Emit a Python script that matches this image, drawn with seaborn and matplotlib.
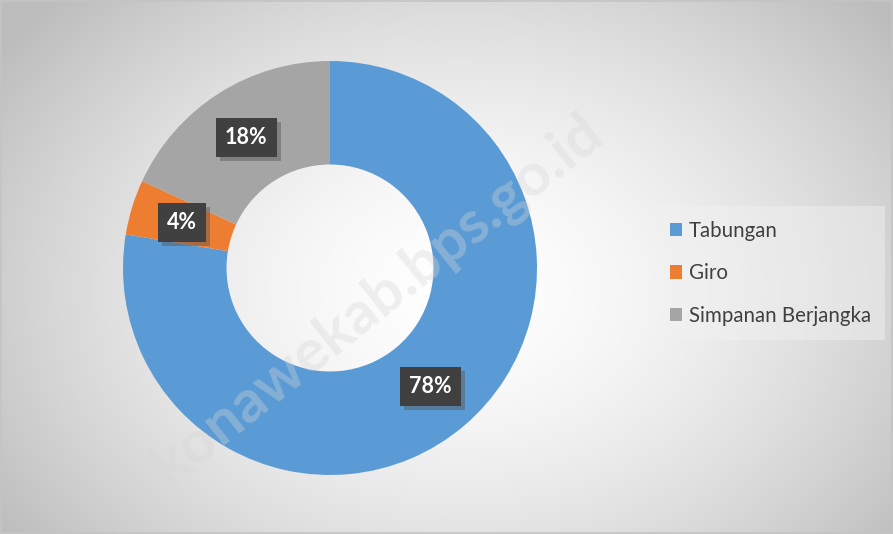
import numpy as np
import matplotlib.pyplot as plt
import matplotlib.patheffects as pe
import seaborn as sns

categories = ["Tabungan", "Giro", "Simpanan Berjangka"]
shares = [77.6, 4.3, 18.1]
colors = ["#5B9BD5", "#ED7D31", "#A5A5A5"]

sns.set_style("white")
plt.rcParams["font.family"] = ["Lato", "DejaVu Sans"]

W, H = 893, 534
fig = plt.figure(figsize=(W / 100, H / 100), dpi=100)

# radial gradient background
bg = fig.add_axes([0, 0, 1, 1], zorder=-5)
yy, xx = np.mgrid[0:H, 0:W]
r = np.sqrt(((xx - 460) / 560.0) ** 2 + ((yy - 290) / 420.0) ** 2)
shade = 1.0 - 0.26 * np.clip(r, 0, 1) ** 1.6
bg.imshow(np.dstack([shade] * 3), extent=[0, W, H, 0], aspect="auto")
bg.set_xlim(0, W)
bg.set_ylim(H, 0)
bg.axis("off")
bg.add_patch(plt.Rectangle((0.5, 0.5), W - 1.5, H - 1.5, fill=False, ec="#c4c4c4", lw=1.2))

# donut
cx, cy, R = 330, 268, 207
ax = fig.add_axes([(cx - R) / W, (H - cy - R) / H, 2 * R / W, 2 * R / H])
wedges, texts = ax.pie(shares, colors=colors, startangle=90, counterclock=False,
                       radius=1.0, wedgeprops=dict(width=0.5, edgecolor="none"))
ax.set_xlim(-1, 1)
ax.set_ylim(-1, 1)
ax.set_aspect("equal")
ax.axis("off")

for w, v in zip(wedges, shares):
    ang = np.deg2rad((w.theta1 + w.theta2) / 2)
    x, y = 0.75 * np.cos(ang), 0.75 * np.sin(ang)
    ax.text(x, y, f"{round(v):.0f}%", ha="center", va="center", color="white",
            fontsize=15.5, fontweight="bold", zorder=10,
            bbox=dict(boxstyle="square,pad=0.42", fc="#404040", ec="none",
                      path_effects=[pe.withSimplePatchShadow(offset=(3, -3), shadow_rgbFace="#555555", alpha=0.45)]))

leg = fig.legend(wedges, categories, loc="upper left", bbox_to_anchor=(645 / W, 1 - 196 / H),
                 frameon=True, fontsize=14.8, handlelength=0.62, handleheight=0.62,
                 labelspacing=1.1, handletextpad=0.3, borderpad=0.7, fancybox=False)
leg.get_frame().set_facecolor("#f2f2f2")
leg.get_frame().set_alpha(0.45)
leg.get_frame().set_edgecolor("none")
for t in leg.get_texts():
    t.set_color("#404040")

# watermark over everything
fig.text(378 / W, 1 - 300 / H, "konawekab.bps.go.id", rotation=38.5, fontsize=43, fontweight="bold",
         color="#d6d6d6", alpha=0.35, ha="center", va="center", zorder=30)

fig.savefig("out.png", dpi=100)
